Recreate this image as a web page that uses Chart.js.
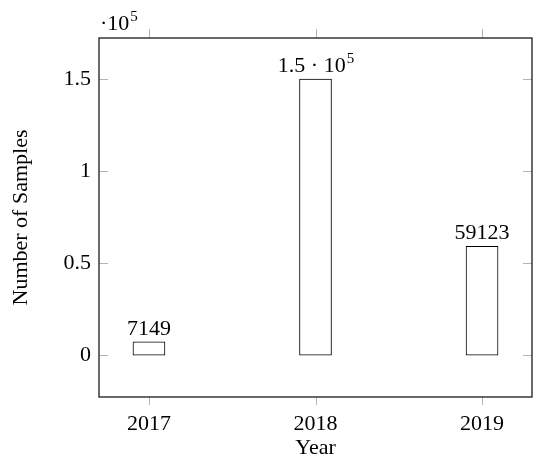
<!DOCTYPE html>
<html>
<head>
<meta charset="utf-8">
<script src="https://cdn.jsdelivr.net/npm/chart.js@4.4.1/dist/chart.umd.min.js"></script>
<style>
  html, body { margin: 0; padding: 0; background: #fff; }
  #wrap { width: 550px; height: 464px; }
</style>
</head>
<body>
<div id="wrap"><canvas id="chart" width="550" height="464"></canvas></div>
<script>
// data
const years = [2017, 2018, 2019];
const samples = [7149, 150000, 59123];
const barLabels = ['7149', '1.5 · 10^5', '59123'];
const yTicks = [0, 50000, 100000, 150000];

const FONT = '"Liberation Serif", "DejaVu Serif", serif';
const FS = 22;
const TICK_GRAY = '#b4b4b4';

// draws "a^b" style text centred on x
function drawSup(ctx, text, x, y, size) {
    const parts = text.split('^');
    ctx.font = size + 'px ' + FONT;
    const wBase = ctx.measureText(parts[0]).width;
    let wSup = 0;
    if (parts[1]) {
        ctx.font = Math.round(size * 0.7) + 'px ' + FONT;
        wSup = ctx.measureText(parts[1]).width;
    }
    const x0 = x - (wBase + wSup) / 2;
    ctx.textAlign = 'left';
    ctx.textBaseline = 'alphabetic';
    ctx.font = size + 'px ' + FONT;
    ctx.fillText(parts[0], x0, y);
    if (parts[1]) {
        ctx.font = Math.round(size * 0.7) + 'px ' + FONT;
        ctx.fillText(parts[1], x0 + wBase + 1, y - size * 0.42);
    }
}

const framePlugin = {
    id: 'frame',
    afterDatasetsDraw(chart) {
        const ctx = chart.ctx;
        const a = chart.chartArea;
        const xs = chart.scales.x, ys = chart.scales.y;
        ctx.save();

        // ticks: x outside, y inside (both sides)
        ctx.strokeStyle = TICK_GRAY;
        ctx.lineWidth = 1;
        ctx.beginPath();
        years.forEach(v => {
            const px = Math.round(xs.getPixelForValue(v)) + 0.5;
            ctx.moveTo(px, a.bottom); ctx.lineTo(px, a.bottom + 8);
            ctx.moveTo(px, a.top); ctx.lineTo(px, a.top - 9);
        });
        yTicks.forEach(v => {
            const py = Math.round(ys.getPixelForValue(v)) + 0.5;
            ctx.moveTo(a.left, py); ctx.lineTo(a.left + 9, py);
            ctx.moveTo(a.right, py); ctx.lineTo(a.right - 9, py);
        });
        ctx.stroke();

        // frame
        ctx.strokeStyle = '#1a1a1a';
        ctx.lineWidth = 1.3;
        ctx.strokeRect(a.left, a.top, a.right - a.left, a.bottom - a.top);

        // value labels above bars
        ctx.fillStyle = '#000';
        const meta = chart.getDatasetMeta(0);
        meta.data.forEach((bar, i) => {
            drawSup(ctx, barLabels[i], bar.x, bar.y - 7, FS);
        });

        // scale multiplier
        ctx.textAlign = 'left';
        ctx.textBaseline = 'alphabetic';
        ctx.font = FS + 'px ' + FONT;
        ctx.fillText('·10', a.left + 1, a.top - 8);
        const w = ctx.measureText('·10').width;
        ctx.font = '15px ' + FONT;
        ctx.fillText('5', a.left + 2 + w, a.top - 17);
        ctx.restore();
    }
};

new Chart(document.getElementById('chart'), {
    type: 'bar',
    data: {
        datasets: [{
            data: years.map((y, i) => ({ x: y, y: samples[i] })),
            backgroundColor: '#ffffff',
            borderColor: '#000000',
            borderWidth: 1,
            borderSkipped: false,
            barThickness: 32
        }]
    },
    options: {
        responsive: false,
        animation: false,
        layout: { padding: { top: 38, right: 18, left: 0, bottom: 0 } },
        plugins: { legend: { display: false }, tooltip: { enabled: false } },
        scales: {
            x: {
                type: 'linear',
                min: 2016.7,
                max: 2019.3,
                offset: false,
                grid: { display: false, drawTicks: false },
                border: { display: false },
                afterBuildTicks: s => { s.ticks = years.map(v => ({ value: v })); },
                afterFit: s => { s.height = 67; },
                ticks: {
                    color: '#000',
                    font: { family: FONT, size: FS },
                    padding: 14,
                    callback: v => String(v)
                },
                title: {
                    display: true,
                    text: 'Year',
                    color: '#000',
                    font: { family: FONT, size: FS },
                    padding: { top: 0, bottom: 3 }
                }
            },
            y: {
                min: -22800,
                max: 172300,
                grid: { display: false, drawTicks: false },
                border: { display: false },
                afterBuildTicks: s => { s.ticks = yTicks.map(v => ({ value: v })); },
                afterFit: s => { s.width = 99; },
                ticks: {
                    color: '#000',
                    font: { family: FONT, size: FS },
                    padding: 8,
                    callback: v => String(v / 1e5)
                },
                title: {
                    display: true,
                    text: 'Number of Samples',
                    color: '#000',
                    font: { family: FONT, size: FS },
                    padding: { top: 8, bottom: 0 }
                }
            }
        }
    },
    plugins: [framePlugin]
});
</script>
</body>
</html>
